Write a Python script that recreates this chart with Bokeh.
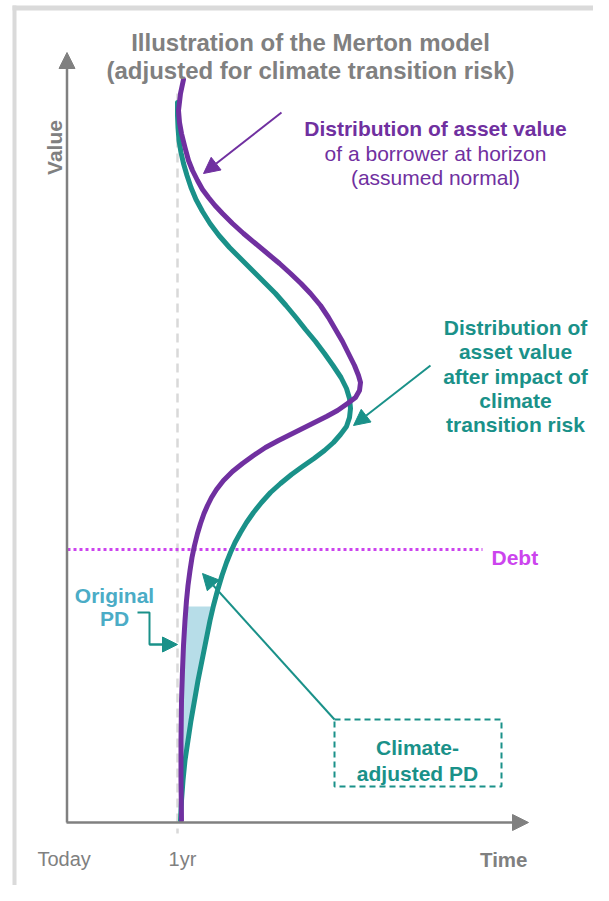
import numpy as np
from bokeh.plotting import figure
from bokeh.models import Range1d, Arrow, NormalHead
from bokeh.core.properties import value
from bokeh.embed import file_html
from bokeh.resources import INLINE

# ---- data (screen-like coordinates, y grows downward) ----
# Distribution of asset value at horizon (purple), density drawn sideways
purple_y = [79, 93, 110, 122, 133, 147, 160, 170, 180, 189, 197, 205, 213, 223, 233, 243,
            253, 263, 273, 283, 293, 305, 317, 329, 341, 353, 365, 375, 382, 390, 397, 403,
            410, 416, 422, 428, 434, 440, 447, 455, 463, 471, 480, 489, 497, 505, 513, 523,
            533, 545, 557, 570, 585, 600, 620, 645, 670, 700, 740, 780, 820]
purple_x = [183, 180, 178, 179, 181, 184.5, 188, 192, 197, 202, 208, 214.5, 222, 232, 243, 255,
            267, 279, 290, 300.5, 310, 320, 328, 335, 342, 348, 354, 358, 360, 359, 355, 347,
            337, 326, 314, 302, 290, 278, 265, 253, 242, 232, 223, 216, 211, 207, 203.5, 200,
            197, 194, 191.5, 189.5, 187.5, 186, 184.5, 183, 182, 181, 180.5, 180.5, 181]

# Distribution after climate transition risk (teal)
teal_y = [102, 115, 127, 140, 152, 163, 175, 187, 199, 211, 223, 235, 247, 258, 270, 282,
          293, 305, 317, 329, 341, 353, 365, 377, 388, 398, 408, 417, 426, 434, 442, 450,
          458, 466, 474, 483, 492, 502, 512, 522, 532, 542, 552, 562, 575, 590, 605, 620,
          640, 660, 680, 700, 720, 740, 760, 780, 800, 820]
teal_x = [177, 177, 177.5, 178.5, 180.5, 183, 186.5, 190.5, 195.5, 202, 209.5, 218.5, 229, 240, 252, 264,
          275, 285.5, 295.5, 305, 315, 324, 332.5, 340.5, 346, 349, 350, 349, 346, 340, 333, 324,
          313.5, 302, 291, 280, 270, 261, 253, 246, 240, 234.5, 230, 226, 221.5, 217, 213, 209.5,
          205.5, 201.5, 197.5, 194, 190.5, 187.5, 184.5, 182.5, 181, 180]

debt_level = [549]
pd_top = [606]
horizon_x = [177]

title_lines = ["Illustration of the Merton model", "(adjusted for climate transition risk)"]

GREY = "#808080"
PURPLE = "#7030a0"
TEAL = "#1a9189"
MAGENTA = "#cc44ee"
AQUA = "#4bacc6"
LIGHT = "#b7dde8"
FONT = value("Liberation Sans")

p = figure(width=593, height=885, x_range=Range1d(0, 593), y_range=Range1d(885, 0),
           output_backend="svg", toolbar_location=None, min_border=0,
           x_axis_location=None, y_axis_location=None)
p.grid.visible = False
p.outline_line_color = None
p.background_fill_color = "white"

# frame
p.line([14, 14], [5, 885], line_color="#dadada", line_width=4)
p.line([12, 593], [7.5, 7.5], line_color="#dadada", line_width=5)

# shaded area between the two curves below the PD level
pyA = np.array(purple_y, float); pxA = np.array(purple_x, float)
tyA = np.array(teal_y, float); txA = np.array(teal_x, float)
top = pd_top[0]
pm = pyA >= top
tm = tyA >= top
poly_x = [np.interp(top, pyA, pxA)] + list(pxA[pm]) + list(txA[tm][::-1]) + [np.interp(top, tyA, txA)]
poly_y = [top] + list(pyA[pm]) + list(tyA[tm][::-1]) + [top]
p.patch(poly_x, poly_y, fill_color=LIGHT, line_color=None)

# horizon dashed line
p.line([horizon_x[0], horizon_x[0]], [93, 833], line_color="#d9d9d9", line_width=2.5, line_dash="9 6")

# debt dotted line
p.line([67, 482], [debt_level[0], debt_level[0]], line_color=MAGENTA, line_width=3, line_dash="3 3")

# curves
p.line(teal_x, teal_y, line_color=TEAL, line_width=5, line_join="round", line_cap="round")
p.line(purple_x, purple_y, line_color=PURPLE, line_width=5, line_join="round", line_cap="round")

# axes arrows
p.add_layout(Arrow(end=NormalHead(size=16, fill_color=GREY, line_color=GREY),
                   x_start=66.5, y_start=822, x_end=66.5, y_end=52,
                   line_color=GREY, line_width=2.5))
p.add_layout(Arrow(end=NormalHead(size=16, fill_color=GREY, line_color=GREY),
                   x_start=66, y_start=822, x_end=528, y_end=822,
                   line_color=GREY, line_width=2.5))

# annotation arrows
p.add_layout(Arrow(end=NormalHead(size=16, fill_color=PURPLE, line_color=PURPLE),
                   x_start=281, y_start=112, x_end=203, y_end=173,
                   line_color=PURPLE, line_width=2))
p.add_layout(Arrow(end=NormalHead(size=16, fill_color=TEAL, line_color=TEAL),
                   x_start=430, y_start=365, x_end=353, y_end=425,
                   line_color=TEAL, line_width=2))
p.add_layout(Arrow(end=NormalHead(size=16, fill_color=TEAL, line_color=TEAL),
                   x_start=334, y_start=719, x_end=202, y_end=573,
                   line_color=TEAL, line_width=2))
p.line([137, 149, 149, 165], [612, 612, 644, 644], line_color=TEAL, line_width=2)
p.add_layout(Arrow(end=NormalHead(size=15, fill_color=TEAL, line_color=TEAL),
                   x_start=149, y_start=644, x_end=177, y_end=644,
                   line_color=TEAL, line_width=2))

# climate-adjusted PD box
p.line([334, 501, 501, 334, 334], [719, 719, 786, 786, 719], line_color=TEAL,
       line_width=2, line_dash="6 4")

def txt(x, y, s, size, color, bold=True, align="center", angle=0):
    p.text([x], [y], text=[s], text_font=FONT, text_font_size=size,
           text_font_style="bold" if bold else "normal", text_color=color,
           text_align=align, text_baseline="alphabetic", angle=angle)

# title
txt(310, 42, title_lines[0], "24px", GREY)
txt(310, 70, title_lines[1], "24px", GREY)

# purple annotation
txt(435, 128, "Distribution of asset value", "21px", PURPLE)
txt(435, 153, "of a borrower at horizon", "21px", PURPLE, bold=False)
txt(435, 177, "(assumed normal)", "21px", PURPLE, bold=False)

# teal annotation
for s, yy in zip(["Distribution of", "asset value", "after impact of", "climate", "transition risk"],
                 [327, 351, 376, 400, 424]):
    txt(515, yy, s, "21px", TEAL)

# debt
txt(491, 557, "Debt", "21px", MAGENTA, align="left")

# original PD
txt(114, 595, "Original", "21px", AQUA)
txt(114, 618, "PD", "21px", AQUA)

# climate-adjusted PD
txt(417, 747, "Climate-", "21px", TEAL)
txt(417, 773, "adjusted PD", "21px", TEAL)

# axis labels
txt(37, 858, "Today", "20px", GREY, bold=False, align="left")
txt(182, 858, "1yr", "20px", GREY, bold=False)
txt(527, 859, "Time", "20.5px", GREY, align="right")
txt(54, 147, "Value", "21px", GREY, angle=np.pi / 2)

open("out.html", "w").write(file_html(p, INLINE))
